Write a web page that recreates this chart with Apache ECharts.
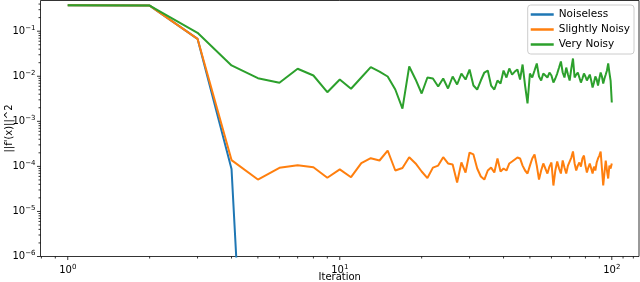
<!DOCTYPE html>
<html><head><meta charset="utf-8">
<script src="https://cdn.jsdelivr.net/npm/echarts@6/dist/echarts.min.js"></script>
<style>html,body{margin:0;padding:0;background:#fff}#c{width:640px;height:282px}</style>
</head><body><div id="c"></div>
<script>
const iterations = [1,2,3,4,5,6,7,8,9,10,11,12,13,14,15,16,17,18,19,20,21,22,23,24,25,26,27,28,29,30,31,32,33,34,35,36,37,38,39,40,41,42,43,44,45,46,47,48,49,50,51,52,53,54,55,56,57,58,59,60,61,62,63,64,65,66,67,68,69,70,71,72,73,74,75,76,77,78,79,80,81,82,83,84,85,86,87,88,89,90,91,92,93,94,95,96,97,98,99,100];
const noiseless = [0.375,0.37,0.0677,8.8e-5,1e-15];
const slightlyNoisy = [0.375,0.37,0.0677,1.38e-4,5.1e-5,9.3e-5,1.06e-4,9.6e-5,5.6e-5,8.6e-5,
 5.75e-5,1.18e-4,1.52e-4,1.35e-4,2.25e-4,8.1e-5,9.2e-5,1.6e-4,1.16e-4,7.7e-5,
 5.5e-5,9.4e-5,1.04e-4,1.6e-4,1.16e-4,1.10e-4,4.39e-5,1.22e-4,7.3e-5,2.03e-4,
 1.84e-4,8.97e-5,5.96e-5,5.1e-5,8.1e-5,9.4e-5,7.3e-5,1.5e-4,7.7e-5,8.97e-5,
 8.1e-5,1.16e-4,1.28e-4,1.42e-4,1.57e-4,1.5e-4,1.04e-4,8.1e-5,6.95e-5,1.04e-4,
 1.5e-4,1.84e-4,1.04e-4,5.1e-5,8.1e-5,1.16e-4,8.97e-5,6.95e-5,9.9e-5,1.22e-4,
 3.76e-5,8.1e-5,1.28e-4,8.97e-5,6.95e-5,1.35e-4,9.4e-5,6.95e-5,1.04e-4,1.28e-4,
 1.57e-4,2.14e-4,1.16e-4,8.1e-5,1.04e-4,1.22e-4,9.9e-5,1.5e-4,1.74e-4,1.04e-4,
 7.3e-5,9.4e-5,1.16e-4,8.97e-5,6.95e-5,9.9e-5,8.1e-5,1.22e-4,1.5e-4,1.74e-4,
 2.14e-4,8.97e-5,3.76e-5,7.3e-5,1.35e-4,8.1e-5,5.38e-5,1.04e-4,8.97e-5,1.16e-4];
const veryNoisy = [0.375,0.37,0.092,0.0174,0.00906,0.00716,0.0147,0.0104,0.00443,0.00848,
 0.00527,0.00937,0.0159,0.0127,0.00987,0.00508,0.00192,0.0165,0.0085,0.00414,
 0.00938,0.00891,0.00592,0.00891,0.00535,0.00987,0.00656,0.0115,0.00847,0.0141,
 0.00623,0.00508,0.00804,0.0121,0.0134,0.00623,0.00508,0.00804,0.0069,0.0134,
 0.00938,0.0149,0.0109,0.0127,0.0141,0.00847,0.0182,0.00623,0.00249,0.0115,
 0.00938,0.0134,0.0192,0.00987,0.00804,0.0115,0.0104,0.00938,0.0121,0.0104,
 0.00726,0.00891,0.0115,0.0156,0.0213,0.0121,0.00938,0.0156,0.0109,0.00804,
 0.0149,0.0248,0.00938,0.0109,0.0121,0.00938,0.00726,0.00891,0.0115,0.00987,
 0.00804,0.00938,0.0109,0.00804,0.00562,0.00726,0.00987,0.00847,0.00623,0.00891,
 0.0121,0.00987,0.0069,0.00891,0.0109,0.0134,0.0192,0.0121,0.00804,0.00262];
const seriesNames = ['Noiseless','Slightly Noisy','Very Noisy'];
const xTickExponents = [0,1,2];
const yTickExponents = [-6,-5,-4,-3,-2,-1];
const xMinorTicks = [0.8,0.9,2,3,4,5,6,7,8,9,20,30,40,50,60,70,80,90,110,120];
const yMinorTicks = [2e-6,3e-6,4e-6,5e-6,6e-6,7e-6,8e-6,9e-6,2e-5,3e-5,4e-5,5e-5,6e-5,7e-5,8e-5,9e-5,
 2e-4,3e-4,4e-4,5e-4,6e-4,7e-4,8e-4,9e-4,2e-3,3e-3,4e-3,5e-3,6e-3,7e-3,8e-3,9e-3,
 0.02,0.03,0.04,0.05,0.06,0.07,0.08,0.09,0.2,0.3,0.4];

const X_MIN = 0.794, X_MAX = 125.9, Y_MIN = 1e-6, Y_MAX = 0.48;
const FONT = 'DejaVu Sans';

function supLabel(exps) {
  return function (v) {
    const l = Math.log10(v), e = Math.round(l);
    if (Math.abs(l - e) > 1e-6 || exps.indexOf(e) < 0) return '';
    return '{b|10}{s|' + (e < 0 ? '\u2212' + (-e) : e) + '}';
  };
}
const rich = {
  b: {fontSize: 10, fontFamily: FONT, color: '#000'},
  s: {fontSize: 7, fontFamily: FONT, color: '#000', padding: [0, 0, 6, 0]}
};

const xTickData = xTickExponents.map(e => [Math.pow(10, e), Y_MIN, 1]).concat(xMinorTicks.map(v => [v, Y_MIN, 0]));
const yTickData = yTickExponents.map(e => [X_MIN, Math.pow(10, e), 1]).concat(yMinorTicks.map(v => [X_MIN, v, 0]));

function pairs(vals) { return vals.map((v, i) => [iterations[i], v]); }

const chart = echarts.init(document.getElementById('c'));
chart.setOption({
  animation: false,
  grid: {left: 40.5, top: 0.5, right: 1, bottom: 25.5, show: true, borderColor: '#000', borderWidth: 0.8,
         containLabel: false, outerBoundsMode: 'none'},
  legend: {
    data: seriesNames, orient: 'vertical', right: 6, top: 5,
    icon: 'rect', itemWidth: 23, itemHeight: 2.5, itemGap: 2,
    padding: [3, 4, 3, 3],
    backgroundColor: 'rgba(255,255,255,0.8)', borderColor: '#cccccc', borderWidth: 1, borderRadius: 3,
    textStyle: {fontFamily: FONT, fontSize: 10.5, color: '#000', lineHeight: 13}
  },
  xAxis: {
    type: 'log', logBase: 10, min: X_MIN, max: X_MAX,
    axisLine: {show: false}, axisTick: {show: false}, splitLine: {show: false},
    axisLabel: {formatter: supLabel(xTickExponents), rich: rich, margin: 7, showMinLabel: false, showMaxLabel: false},
    name: 'Iteration', nameLocation: 'middle', nameGap: 15.5, nameMoveOverlap: false,
    nameTextStyle: {fontFamily: FONT, fontSize: 10, color: '#000', verticalAlign: 'top'}
  },
  yAxis: {
    type: 'log', logBase: 10, min: Y_MIN, max: Y_MAX,
    axisLine: {show: false}, axisTick: {show: false}, splitLine: {show: false},
    axisLabel: {formatter: supLabel(yTickExponents), rich: rich, margin: 5, showMinLabel: true, showMaxLabel: false},
    name: "||f'(x)||^2", nameLocation: 'middle', nameGap: 26, nameMoveOverlap: false,
    nameTextStyle: {fontFamily: FONT, fontSize: 10, color: '#000'}
  },
  series: [
    {name: seriesNames[0], type: 'line', data: pairs(noiseless), showSymbol: false, symbol: 'none', clip: true,
     lineStyle: {color: '#1f77b4', width: 2}, itemStyle: {color: '#1f77b4'}, z: 2},
    {name: seriesNames[1], type: 'line', data: pairs(slightlyNoisy), showSymbol: false, symbol: 'none', clip: true,
     lineStyle: {color: '#ff7f0e', width: 2}, itemStyle: {color: '#ff7f0e'}, z: 3},
    {name: seriesNames[2], type: 'line', data: pairs(veryNoisy), showSymbol: false, symbol: 'none', clip: true,
     lineStyle: {color: '#2ca02c', width: 2}, itemStyle: {color: '#2ca02c'}, z: 4},
    {type: 'custom', silent: true, data: xTickData, encode: {x: 0, y: 1}, clip: false, z: 10,
     renderItem: function (params, api) {
       const p = api.coord([api.value(0), api.value(1)]);
       const len = api.value(2) === 1 ? 3.5 : 2;
       return {type: 'line', shape: {x1: p[0], y1: p[1], x2: p[0], y2: p[1] + len}, style: {stroke: '#000', lineWidth: 0.8}};
     }},
    {type: 'custom', silent: true, data: yTickData, encode: {x: 0, y: 1}, clip: false, z: 10,
     renderItem: function (params, api) {
       const p = api.coord([api.value(0), api.value(1)]);
       const len = api.value(2) === 1 ? 3.5 : 2;
       return {type: 'line', shape: {x1: p[0] - len, y1: p[1], x2: p[0], y2: p[1]}, style: {stroke: '#000', lineWidth: 0.8}};
     }}
  ]
});
</script></body></html>
